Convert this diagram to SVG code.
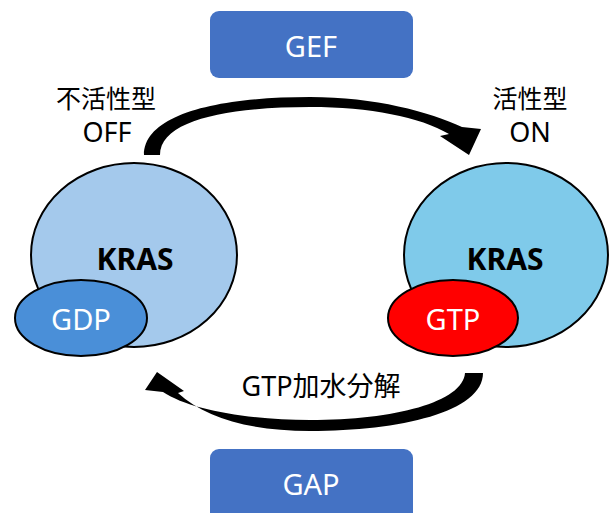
<svg xmlns="http://www.w3.org/2000/svg" width="609" height="513" viewBox="0 0 609 513">
  <style>
    .t { font-family: "Noto Sans", "Noto Sans CJK JP", sans-serif; text-anchor: middle; }
    .c { dominant-baseline: central; }
    .w { fill: #ffffff; font-size: 29px; }
    .k { fill: #000000; font-size: 27px; }
    .j { fill: #000000; font-size: 25px; }
    .b { fill: #000000; font-size: 30px; font-weight: bold; }
    .box { fill: #4472C4; }
    .ol { stroke: #000000; stroke-width: 2; }
  </style>
  <rect width="609" height="513" fill="#ffffff"/>

  <!-- exchange / hydrolysis arrows -->
  <g id="connectors" fill="#000000">
    <path d="M144,155 C144,115 215,97 310,97 C375,97 430,112 462,127 L481,129 L469,155 L440,136 L449,134 C420,117 370,107 310,107 C228,107 160,120 160,155 Z"/>
    <path d="M465,373 L483,373 C483,412 400,431 310,431 C250,431 205,418 178,393 L184,391 L157,372 L145,390 L163,392 C190,410 250,420 310,420 C395,420 463,402 465,373 Z"/>
  </g>

  <g id="gef">
    <rect class="box" x="210" y="11" width="203" height="67" rx="9"/>
    <text class="t c w" x="311" y="45" font-size="30">GEF</text>
  </g>

  <g id="gap">
    <rect class="box" x="210" y="449" width="203" height="72" rx="9"/>
    <text class="t c w" x="311" y="483" font-size="30">GAP</text>
  </g>

  <g id="label-off">
    <text class="t j" x="106" y="108">不活性型</text>
    <text class="t k" x="107" y="142">OFF</text>
  </g>

  <g id="label-on">
    <text class="t j" x="530" y="108">活性型</text>
    <text class="t k" x="530" y="142">ON</text>
  </g>

  <g id="label-hydrolysis">
    <text class="t k" x="321" y="396">GTP加水分解</text>
  </g>

  <g id="kras-gdp">
    <ellipse class="ol" cx="134" cy="255" rx="103" ry="92" fill="#A4C9EC"/>
    <text class="t c b" x="135" y="258">KRAS</text>
    <ellipse class="ol" cx="81" cy="318" rx="66" ry="38" fill="#4A8FD8"/>
    <text class="t c w" x="81" y="318">GDP</text>
  </g>

  <g id="kras-gtp">
    <ellipse class="ol" cx="506" cy="255" rx="102" ry="92" fill="#7FCAEA"/>
    <text class="t c b" x="505" y="258">KRAS</text>
    <ellipse class="ol" cx="453" cy="318" rx="65" ry="38" fill="#FF0000"/>
    <text class="t c w" x="453" y="318">GTP</text>
  </g>
</svg>
